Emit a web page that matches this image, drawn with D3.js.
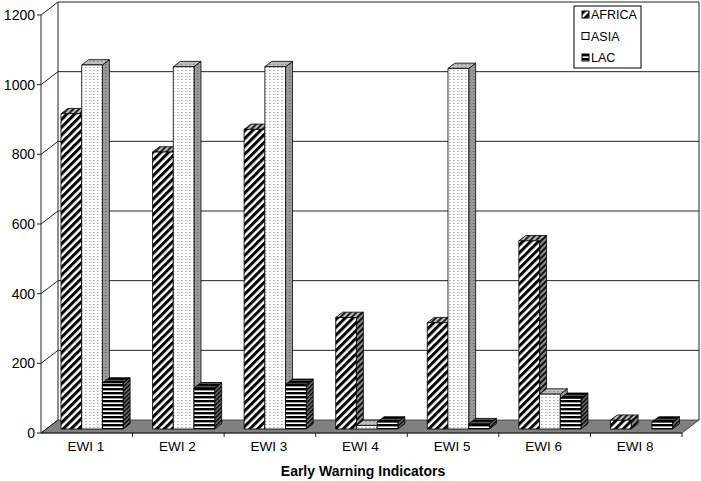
<!DOCTYPE html>
<html>
<head>
<meta charset="utf-8">
<script src="https://cdn.jsdelivr.net/npm/d3@7"></script>
<style>
  body { margin: 0; background: #fff; }
  text { font-family: "Liberation Sans", Arial, sans-serif; fill: #000; }
</style>
</head>
<body>
<script>
// chart data
const categories = ['EWI 1', 'EWI 2', 'EWI 3', 'EWI 4', 'EWI 5', 'EWI 6', 'EWI 8'];
const seriesNames = ['AFRICA', 'ASIA', 'LAC'];
const africa = [905, 795, 860, 320, 305, 540, 25];
const asia = [1045, 1040, 1040, 10, 1035, 100, 0];
const lac = [132, 118, 128, 20, 15, 88, 20];
const yTicks = [0, 200, 400, 600, 800, 1000, 1200];

const width = 701, height = 481;
// 3d depth of the plot box
const DX = 17, DY = 13;
const barD0 = 0.31, barD1 = 0.72;

const svg = d3.select('body').append('svg')
  .attr('width', width)
  .attr('height', height);

const defs = svg.append('defs');

// stripe pattern helper
function stripes(id, bg, fg, size, thick, angle) {
  const p = defs.append('pattern')
    .attr('id', id)
    .attr('patternUnits', 'userSpaceOnUse')
    .attr('width', size).attr('height', size)
    .attr('patternTransform', `rotate(${angle})`);
  p.append('rect').attr('width', size).attr('height', size).attr('fill', bg);
  p.append('rect').attr('width', thick).attr('height', size).attr('fill', fg);
}
function dots(id, bg, fg) {
  const p = defs.append('pattern')
    .attr('id', id)
    .attr('patternUnits', 'userSpaceOnUse')
    .attr('width', 4).attr('height', 3);
  p.append('rect').attr('width', 4).attr('height', 3).attr('fill', bg);
  p.append('rect').attr('x', 1).attr('y', 1).attr('width', 1.5).attr('height', 1).attr('fill', fg);
}

stripes('af-front', '#fff', '#000', 5.5, 3, 45);
stripes('af-side', '#8a8a8a', '#111', 4, 2, 45);
stripes('af-top', '#bbb', '#222', 4, 2, 45);
dots('as-front', '#fff', '#b0b0b0');
dots('as-side', '#9a9a9a', '#6a6a6a');
dots('as-top', '#bdbdbd', '#8a8a8a');
stripes('la-front', '#fff', '#000', 4, 2.4, 90);
stripes('la-side', '#777', '#000', 3, 1.5, 45);
stripes('la-top', '#555', '#000', 3, 1.8, 90);

const fills = {
  AFRICA: ['url(#af-front)', 'url(#af-side)', 'url(#af-top)'],
  ASIA: ['url(#as-front)', 'url(#as-side)', 'url(#as-top)'],
  LAC: ['url(#la-front)', 'url(#la-side)', 'url(#la-top)']
};
const values = { AFRICA: africa, ASIA: asia, LAC: lac };

// scales (front plane)
const x0 = d3.scaleBand()
  .domain(categories)
  .range([41, 682]);
const x1 = d3.scaleBand()
  .domain(seriesNames)
  .range([0, x0.bandwidth()])
  .paddingInner(0)
  .paddingOuter(0.71);
const y = d3.scaleLinear()
  .domain([0, 1200])
  .range([433, 15]);

const xL = x0.range()[0], xR = x0.range()[1];
const pt = (px, v, d) => [px + d * DX, y(v) - d * DY];
const poly = pts => 'M' + pts.map(p => p.join(',')).join('L') + 'Z';

// floor
svg.append('path')
  .attr('d', poly([pt(xL, 0, 0), pt(xR, 0, 0), pt(xR, 0, 1), pt(xL, 0, 1)]))
  .attr('fill', '#808080')
  .attr('stroke', '#333')
  .attr('stroke-width', 0.8);

// walls
const walls = svg.append('g').attr('fill', 'none').attr('stroke', '#222').attr('stroke-width', 1);
walls.append('path')
  .attr('d', poly([pt(xL, 0, 0), pt(xL, 1200, 0), pt(xL, 1200, 1), pt(xL, 0, 1)]));
walls.append('path')
  .attr('d', 'M' + [pt(xL, 1200, 1), pt(xR, 1200, 1), pt(xR, 0, 1)].map(p => p.join(',')).join('L'));

// gridlines on left and back wall
yTicks.filter(t => t > 0 && t < 1200).forEach(t => {
  walls.append('path')
    .attr('d', 'M' + [pt(xL, t, 0), pt(xL, t, 1), pt(xR, t, 1)].map(p => p.join(',')).join('L'));
});

// y axis labels and ticks
const yAxis = svg.append('g');
yAxis.selectAll('line').data(yTicks).enter().append('line')
  .attr('x1', xL - 4).attr('x2', xL)
  .attr('y1', d => y(d)).attr('y2', d => y(d))
  .attr('stroke', '#222');
yAxis.selectAll('text').data(yTicks).enter().append('text')
  .attr('x', xL - 6)
  .attr('y', d => y(d) + 5)
  .attr('text-anchor', 'end')
  .attr('font-size', 14)
  .text(d => d);

// x axis
const xAxis = svg.append('g');
xAxis.append('line')
  .attr('x1', xL).attr('x2', xR)
  .attr('y1', y(0)).attr('y2', y(0))
  .attr('stroke', '#222');
xAxis.selectAll('line.tick').data(categories.slice(1).concat(['end'])).enter().append('line')
  .attr('class', 'tick')
  .attr('x1', (d, i) => x0(categories[0]) + (i + 1) * x0.step())
  .attr('x2', (d, i) => x0(categories[0]) + (i + 1) * x0.step())
  .attr('y1', y(0)).attr('y2', y(0) + 4)
  .attr('stroke', '#222');
xAxis.selectAll('text').data(categories).enter().append('text')
  .attr('x', d => x0(d) + x0.bandwidth() / 2 - 1)
  .attr('y', y(0) + 18)
  .attr('text-anchor', 'middle')
  .attr('font-size', 13.5)
  .text(d => d);

svg.append('text')
  .attr('x', 363)
  .attr('y', 476)
  .attr('text-anchor', 'middle')
  .attr('font-size', 14)
  .attr('font-weight', 'bold')
  .text('Early Warning Indicators');

// bars
const bars = svg.append('g').attr('stroke', '#000').attr('stroke-width', 0.8).attr('stroke-linejoin', 'round');
categories.forEach((c, ci) => {
  seriesNames.forEach(s => {
    const v = values[s][ci];
    if (!v) return;
    const xa = x0(c) + x1(s), xb = xa + x1.bandwidth();
    const f = fills[s];
    bars.append('path')
      .attr('d', poly([pt(xb, 0, barD0), pt(xb, v, barD0), pt(xb, v, barD1), pt(xb, 0, barD1)]))
      .attr('fill', f[1]);
    bars.append('path')
      .attr('d', poly([pt(xa, v, barD0), pt(xb, v, barD0), pt(xb, v, barD1), pt(xa, v, barD1)]))
      .attr('fill', f[2]);
    bars.append('path')
      .attr('d', poly([pt(xa, 0, barD0), pt(xb, 0, barD0), pt(xb, v, barD0), pt(xa, v, barD0)]))
      .attr('fill', f[0]);
  });
});

// legend
const legend = svg.append('g').attr('transform', 'translate(574,6)');
legend.append('rect')
  .attr('width', 67).attr('height', 62)
  .attr('fill', '#fff').attr('stroke', '#000');
const items = legend.selectAll('g.item').data(seriesNames).enter().append('g')
  .attr('class', 'item')
  .attr('transform', (d, i) => `translate(8,${13 + i * 21.5})`);
items.append('rect')
  .attr('x', 0).attr('y', -8)
  .attr('width', 7).attr('height', 7)
  .attr('fill', d => fills[d][0])
  .attr('stroke', '#000');
items.append('text')
  .attr('x', 9).attr('y', 0)
  .attr('font-size', 12.5)
  .text(d => d);
</script>
</body>
</html>
